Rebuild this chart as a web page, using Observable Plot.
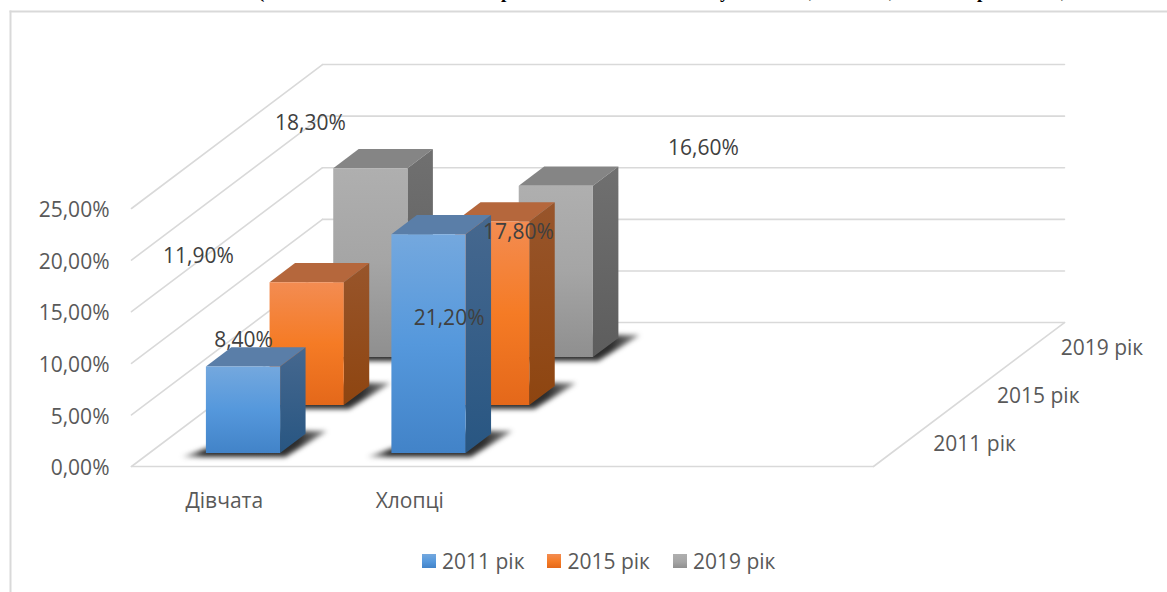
<!DOCTYPE html>
<html lang="uk">
<head>
<meta charset="utf-8">
<script src="https://cdn.jsdelivr.net/npm/d3@7"></script>
<script src="https://cdn.jsdelivr.net/npm/@observablehq/plot@0.6"></script>
<style>
  html, body { margin: 0; padding: 0; background: #fff; overflow: hidden; }
  #wrap { position: relative; width: 1167px; height: 592px; overflow: hidden; }
  #wrap svg { display: block; }
  .head { position: absolute; font: bold 19px "Liberation Serif", serif; color: #000; line-height: 19px; white-space: pre; }
  #legend { position: absolute; left: 422px; top: 547px; display: flex; font: 21px "Open Sans", sans-serif; color: #595959; line-height: 28px; }
  #legend span.item { display: flex; align-items: center; margin-right: 23px; }
  #legend i { display: block; width: 14px; height: 14px; margin-right: 6px; }
</style>
</head>
<body>
<div id="wrap"></div>
<script>
// ---- chart values ----
const categories = ["Дівчата", "Хлопці"];
const series = ["2011 рік", "2015 рік", "2019 рік"];
const values2011 = [8.4, 21.2];
const values2015 = [11.9, 17.8];
const values2019 = [18.3, 16.6];
const tickValues = [0, 5, 10, 15, 20, 25];
const tickLabels = ["0,00%", "5,00%", "10,00%", "15,00%", "20,00%", "25,00%"];
const valueLabels2011 = ["8,40%", "21,20%"];
const valueLabels2015 = ["11,90%", "17,80%"];
const valueLabels2019 = ["18,30%", "16,60%"];
// the letters of the cropped heading that remain visible at the top edge
const headingParts = ["(", "р", "у", ",", ",", "р", ","];
const headingLefts = [258, 501, 720, 809, 889, 977, 1061];

// ---- dragged data-label anchors, in axis units (category axis, value axis) ----
const labelU2011 = [0.604, 1.712];
const labelV2011 = [12.3, 14.4];
const labelU2015 = [0.361, 2.086];
const labelV2015 = [20.4, 22.7];
const labelU2019 = [0.965, 3.083];
const labelV2019 = [33.3, 30.9];

// ---- colours ----
const palette = [
  {id: "blue",   front: ["#74a8de", "#5598dc", "#4283c8"], side: ["#46688f", "#285682"], top: "#5a7ea8"},
  {id: "orange", front: ["#f38c52", "#f57b25", "#e4681a"], side: ["#98552b", "#8e4510"], top: "#b5673c"},
  {id: "gray",   front: ["#afafaf", "#a5a5a5", "#8f8f8f"], side: ["#707070", "#5d5d5d"], top: "#858585"}
];
const font = "Open Sans";
const axisInk = "#595959";
const labelInk = "#404040";
const gridInk = "#d9d9d9";

// ---- oblique 3-D projection: (category u, value v, depth d) -> (x-scale, y-scale) ----
const DEPTH_U = 0.3432;   // category units moved per depth slot
const DEPTH_V = 4.65;     // value units moved per depth slot
const project = (u, v, d) => [u + d * DEPTH_U, v + d * DEPTH_V];
const slots = series.length;
const spanU = 4;
const barU0 = 0.305, barU1 = 0.705;
const barD0 = 0.28, barD1 = 0.68;

const pathX = p => p[0], pathY = p => p[1];
const poly = (pts, opts) => Plot.line(pts.map(p => project(...p)), {x: pathX, y: pathY, ...opts});

// ---- gridlines ----
const gridStyle = {stroke: gridInk, strokeWidth: 1.6};
const gridMarks = [
  ...tickValues.map(v => poly([[0, v, 0], [0, v, slots]], gridStyle)),
  ...tickValues.map(v => poly([[0, v, slots], [spanU, v, slots]], gridStyle)),
  poly([[0, 0, 0], [spanU, 0, 0]], gridStyle),
  poly([[spanU, 0, 0], [spanU, 0, slots]], gridStyle)
];

// ---- bars ----
function barMarks(c, s, v) {
  const u0 = c + barU0, u1 = c + barU1, d0 = s + barD0, d1 = s + barD1;
  const p = palette[s];
  return [
    poly([[u0, v, d1], [u1, v, d1], [u1, v, d0], [u0, v, d0]], {fill: p.top, stroke: "none"}),
    poly([[u1, 0, d0], [u1, 0, d1], [u1, v, d1], [u1, v, d0]], {fill: `url(#side-${p.id})`, stroke: "none"}),
    poly([[u0, 0, d0], [u1, 0, d0], [u1, v, d0], [u0, v, d0]], {fill: `url(#front-${p.id})`, stroke: "none"})
  ];
}
function shadowMark(c, s) {
  return poly(
    [[c + 0.2, 0, s + 0.2], [c + 0.76, 0, s + 0.2], [c + 0.80, 0, s + 0.74], [c + 0.42, 0, s + 0.74]],
    {fill: "url(#shadow)", stroke: "none", imageFilter: "blur(2.8px)"}
  );
}
const allValues = [values2011, values2015, values2019];
const barLayers = [2, 1, 0].flatMap(s =>
  categories.flatMap((_, c) => [shadowMark(c, s), ...barMarks(c, s, allValues[s][c])])
);

// ---- gradients ----
function defsMark() {
  const defs = d3.create("svg:defs");
  const grad = (id, stops, x2 = 0, y2 = 1) => {
    const g = defs.append("linearGradient").attr("id", id)
      .attr("x1", 0).attr("y1", 0).attr("x2", x2).attr("y2", y2);
    stops.forEach(([o, c, a]) => {
      const st = g.append("stop").attr("offset", o).attr("stop-color", c);
      if (a != null) st.attr("stop-opacity", a);
    });
  };
  palette.forEach(p => {
    grad(`front-${p.id}`, p.front.map((c, i) => [i / (p.front.length - 1), c]));
    grad(`side-${p.id}`, p.side.map((c, i) => [i, c]));
  });
  grad("shadow", [[0, "#222", 0.25], [0.15, "#222", 0.95], [0.8, "#222", 0.95], [1, "#222", 0.5]], 1, 0);
  return defs.node();
}

// ---- text ----
const textBase = {fontFamily: font, fontSize: 21, dy: 2};
const valueAxis = Plot.text(tickValues, {
  x: () => 0, y: d => d, text: (d, i) => tickLabels[i],
  textAnchor: "end", fill: axisInk, ...textBase, dx: -22
});
const catAxis = Plot.text(categories, {
  x: (d, i) => i + 0.5, y: () => 0, text: d => d,
  fill: axisInk, ...textBase, dy: 35
});
const depthAxis = Plot.text(series, {
  x: (d, i) => project(spanU, 0, i + 0.5)[0],
  y: (d, i) => project(spanU, 0, i + 0.5)[1],
  text: d => d, textAnchor: "start", fill: axisInk, ...textBase, dx: 28
});
const labelMark = (texts, us, vs) => Plot.text(texts, {
  x: (d, i) => us[i], y: (d, i) => vs[i], text: d => d, fill: labelInk, ...textBase, dy: 0.5
});

// ---- plot ----
const chart = Plot.plot({
  width: 1167, height: 592,
  marginTop: 11, marginLeft: 10, marginRight: 0, marginBottom: 0,
  x: {type: "linear", domain: [0, spanU], range: [131, 873], axis: null},
  y: {type: "linear", domain: [0, 25], range: [466, 208], axis: null},
  style: {background: "transparent", overflow: "visible"},
  marks: [
    defsMark,
    Plot.frame({anchor: "top", stroke: gridInk, strokeWidth: 2}),
    Plot.frame({anchor: "left", stroke: gridInk, strokeWidth: 2}),
    ...gridMarks,
    ...barLayers,
    valueAxis, catAxis, depthAxis,
    labelMark(valueLabels2019, labelU2019, labelV2019),
    labelMark(valueLabels2015, labelU2015, labelV2015),
    labelMark(valueLabels2011, labelU2011, labelV2011)
  ]
});

const wrap = document.getElementById("wrap");
wrap.appendChild(chart);

// cropped heading
headingParts.forEach((t, i) => {
  const el = document.createElement("div");
  el.className = "head";
  el.textContent = t;
  el.style.left = headingLefts[i] + "px";
  el.style.top = "-18px";
  wrap.appendChild(el);
});

// legend
const legend = document.createElement("div");
legend.id = "legend";
series.forEach((name, i) => {
  const item = document.createElement("span");
  item.className = "item";
  const sw = document.createElement("i");
  const f = palette[i].front;
  sw.style.background = `linear-gradient(${f[0]}, ${f[1]} 55%, ${f[2]})`;
  item.appendChild(sw);
  item.appendChild(document.createTextNode(name));
  legend.appendChild(item);
});
wrap.appendChild(legend);
</script>
</body>
</html>
